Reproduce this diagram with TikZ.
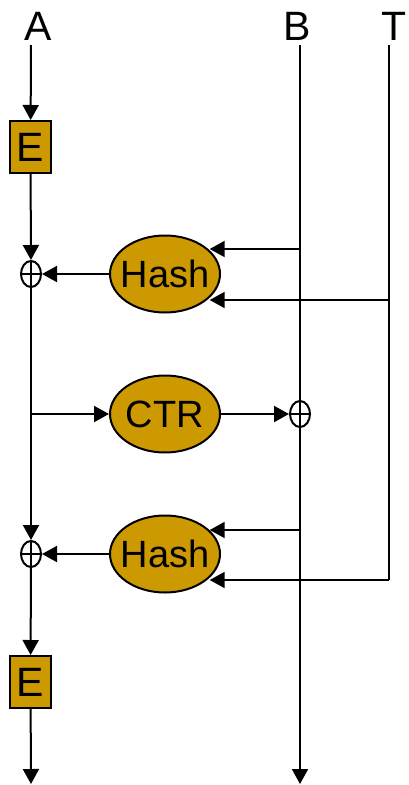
\documentclass[tikz,border=0pt]{standalone}
\usepackage{fontspec}
\setmainfont{Liberation Sans}
\usetikzlibrary{arrows.meta,shapes.geometric}

\definecolor{gold}{RGB}{204,153,0}

\tikzset{
  flow/.style={-{Triangle[length=15pt,width=16pt]}},
  ebox/.style={draw, fill=gold, minimum width=41pt, minimum height=52pt,
    inner sep=0pt, font=\fontsize{41}{41}\selectfont},
  blob/.style={ellipse, draw, fill=gold, minimum width=110pt, minimum height=77pt,
    inner sep=0pt, font=\fontsize{38}{38}\selectfont},
  xorop/.style={ellipse, draw, minimum width=20pt, minimum height=26pt, inner sep=0pt},
  lbl/.style={inner sep=0pt, font=\fontsize{41}{41}\selectfont},
}

\begin{document}
\begin{tikzpicture}[x=1pt, y=-1pt, line width=2pt]

  \useasboundingbox (0,0) rectangle (408,785);

  % --- Input labels ---
  \node[lbl] (la) at (38,26)  {A};
  \node[lbl] (lb) at (297,26) {B};
  \node[lbl] (lt) at (394,26) {T};

  % --- Line ends ---
  \coordinate (atop) at (31,45);
  \coordinate (btop) at (300,45);
  \coordinate (ttop) at (389,45);
  \coordinate (abot) at (31,784);
  \coordinate (bbot) at (300,784);
  \coordinate (tap)  at (31,414);

  % --- Taps on B and T ---
  \coordinate (b1) at (300,249);
  \coordinate (t1) at (389,300);
  \coordinate (b2) at (300,530);
  \coordinate (t2) at (389,580);

  % --- Blocks ---
  \node[ebox] (e1) at (30.5,147) {E};
  \node[xorop] (x1) at (31,274) {};
  \node[blob] (h1) at (165,274) {\makebox[0pt]{Hash}};
  \node[blob] (ctr) at (165,414) {\makebox[0pt]{CTR}};
  \node[xorop] (x2) at (300,414) {};
  \node[xorop] (x3) at (31,554) {};
  \node[blob] (h2) at (165,554) {\makebox[0pt]{Hash}};
  \node[ebox] (e2) at (30.5,682) {E};

  % --- XOR crosses ---
  \foreach \x in {x1,x2,x3}
    \draw (\x.north) -- (\x.south) (\x.west) -- (\x.east);

  % --- A path ---
  \draw[flow] (atop) -- (e1);
  \draw[flow] (e1) -- (x1);
  \draw[flow] (x1) -- (x3);
  \draw[flow] (x3) -- (e2);
  \draw[flow] (e2) -- (abot);

  % --- B and T lines ---
  \draw[flow] (btop) -- (bbot);
  \draw (ttop) -- (t2);

  % --- CTR branch ---
  \draw[flow] (tap) -- (ctr);
  \draw[flow] (ctr) -- (x2);

  % --- Hash inputs and outputs ---
  \draw[flow] (b1) -- (b1 -| h1.28);
  \draw[flow] (t1) -- (t1 -| h1.-28);
  \draw[flow] (h1) -- (x1);
  \draw[flow] (b2) -- (b2 -| h2.28);
  \draw[flow] (t2) -- (t2 -| h2.-28);
  \draw[flow] (h2) -- (x3);

\end{tikzpicture}
\end{document}
